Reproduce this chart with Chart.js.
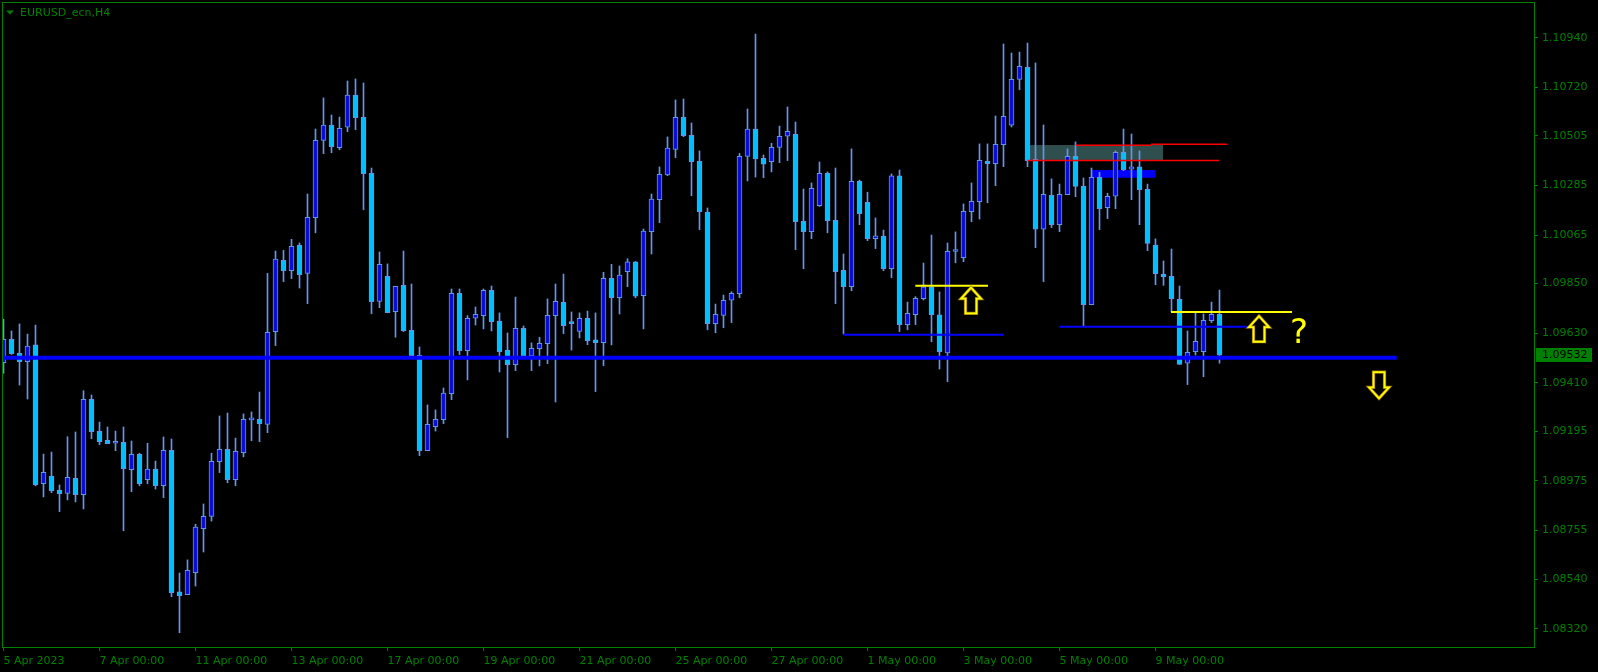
<!DOCTYPE html>
<html>
<head>
<meta charset="utf-8">
<title>EURUSD_ecn,H4</title>
<script src="https://cdn.jsdelivr.net/npm/chart.js@4.4.0/dist/chart.umd.min.js"></script>
<style>
    html, body { margin: 0; padding: 0; background: #000; }
    #wrap { width: 1598px; height: 672px; }
</style>
</head>
<body>
<div id="wrap"><canvas id="mtChart" width="1598" height="672"></canvas></div>
<script>
// H4 bars, 5 Apr 2023 .. 10 May 2023 (bar index = position on the time axis)
const openP = [
    1.09499, 1.09603, 1.09541, 1.09504, 1.09578, 1.08963, 1.08997, 1.08934, 1.08920, 1.08987,
    1.08914, 1.09337, 1.09195, 1.09155, 1.09142, 1.09146, 1.09025, 1.09093, 1.08981, 1.09027,
    1.08954, 1.09111, 1.08483, 1.08471, 1.08568, 1.08763, 1.08818, 1.09060, 1.09115, 1.08981,
    1.09100, 1.09246, 1.09248, 1.09226, 1.09637, 1.09953, 1.09907, 1.10020, 1.09895, 1.10142,
    1.10485, 1.10552, 1.10452, 1.10543, 1.10685, 1.10587, 1.10339, 1.09771, 1.09882, 1.09725,
    1.09842, 1.09643, 1.09532, 1.09109, 1.09215, 1.09247, 1.09362, 1.09807, 1.09552, 1.09696,
    1.09708, 1.09820, 1.09684, 1.09555, 1.09490, 1.09652, 1.09529, 1.09561, 1.09583, 1.09708,
    1.09767, 1.09674, 1.09638, 1.09696, 1.09600, 1.09588, 1.09873, 1.09787, 1.09903, 1.09946,
    1.09796, 1.10080, 1.10222, 1.10331, 1.10445, 1.10587, 1.10507, 1.10392, 1.10167, 1.09672,
    1.09709, 1.09776, 1.09805, 1.10414, 1.10535, 1.10405, 1.10390, 1.10454, 1.10503, 1.10512,
    1.10126, 1.10080, 1.10195, 1.10339, 1.10130, 1.09909, 1.09836, 1.10303, 1.10210, 1.10049,
    1.10060, 1.09916, 1.10327, 1.09668, 1.09712, 1.09783, 1.09836, 1.09711, 1.09543, 1.09992,
    1.09965, 1.10169, 1.10213, 1.10392, 1.10381, 1.10466, 1.10552, 1.10755, 1.10809, 1.10401,
    1.10091, 1.10241, 1.10111, 1.10244, 1.10414, 1.10282, 1.09756, 1.10321, 1.10186, 1.10237,
    1.10432, 1.10357, 1.10367, 1.10268, 1.10020, 1.09891, 1.09882, 1.09780, 1.09497, 1.09548,
    1.09548, 1.09685, 1.09714
];
const highP = [
    1.09692, 1.09640, 1.09671, 1.09626, 1.09666, 1.09094, 1.09103, 1.08957, 1.09171, 1.09192,
    1.09375, 1.09356, 1.09236, 1.09214, 1.09196, 1.09214, 1.09152, 1.09098, 1.09142, 1.09063,
    1.09170, 1.09161, 1.08567, 1.08625, 1.08783, 1.08873, 1.09098, 1.09263, 1.09276, 1.09165,
    1.09272, 1.09281, 1.09369, 1.09895, 1.09994, 1.09997, 1.10046, 1.10030, 1.10247, 1.10535,
    1.10673, 1.10597, 1.10588, 1.10748, 1.10757, 1.10739, 1.10362, 1.09990, 1.09937, 1.09838,
    1.09994, 1.09848, 1.09569, 1.09312, 1.09290, 1.09387, 1.09826, 1.09826, 1.09708, 1.09746,
    1.09826, 1.09839, 1.09720, 1.09631, 1.09790, 1.09662, 1.09587, 1.09612, 1.09782, 1.09848,
    1.09892, 1.09724, 1.09720, 1.09728, 1.09720, 1.09900, 1.09935, 1.09928, 1.09960, 1.09948,
    1.10092, 1.10247, 1.10367, 1.10500, 1.10664, 1.10668, 1.10562, 1.10438, 1.10185, 1.09759,
    1.09799, 1.09814, 1.10427, 1.10624, 1.10956, 1.10420, 1.10472, 1.10548, 1.10633, 1.10566,
    1.10269, 1.10296, 1.10389, 1.10345, 1.10362, 1.09981, 1.10447, 1.10309, 1.10255, 1.10141,
    1.10087, 1.10336, 1.10353, 1.09768, 1.09792, 1.09941, 1.10065, 1.09813, 1.10030, 1.10079,
    1.10203, 1.10296, 1.10469, 1.10469, 1.10593, 1.10912, 1.10872, 1.10876, 1.10916, 1.10828,
    1.10553, 1.10314, 1.10291, 1.10447, 1.10478, 1.10318, 1.10362, 1.10343, 1.10250, 1.10438,
    1.10535, 1.10513, 1.10438, 1.10291, 1.10048, 1.09950, 1.10003, 1.09839, 1.09640, 1.09721,
    1.09715, 1.09768, 1.09821
];
const lowP = [
    1.09452, 1.09536, 1.09400, 1.09338, 1.08953, 1.08904, 1.08923, 1.08839, 1.08891, 1.08882,
    1.08851, 1.09162, 1.09136, 1.09140, 1.09109, 1.08754, 1.08927, 1.08954, 1.08963, 1.08939,
    1.08901, 1.08462, 1.08302, 1.08471, 1.08509, 1.08660, 1.08797, 1.09012, 1.08967, 1.08954,
    1.09082, 1.09153, 1.09149, 1.09189, 1.09575, 1.09858, 1.09872, 1.09830, 1.09761, 1.10075,
    1.10426, 1.10430, 1.10443, 1.10523, 1.10532, 1.10177, 1.09716, 1.09743, 1.09721, 1.09612,
    1.09637, 1.09527, 1.09087, 1.09109, 1.09196, 1.09229, 1.09335, 1.09535, 1.09423, 1.09666,
    1.09649, 1.09640, 1.09458, 1.09167, 1.09464, 1.09520, 1.09464, 1.09485, 1.09495, 1.09325,
    1.09628, 1.09555, 1.09609, 1.09579, 1.09371, 1.09486, 1.09578, 1.09715, 1.09836, 1.09787,
    1.09649, 1.09981, 1.10120, 1.10328, 1.10408, 1.10501, 1.10239, 1.10089, 1.09645, 1.09632,
    1.09654, 1.09677, 1.09787, 1.10305, 1.10322, 1.10319, 1.10345, 1.10386, 1.10395, 1.10000,
    1.09916, 1.10049, 1.10192, 1.10075, 1.09761, 1.09626, 1.09818, 1.10111, 1.10040, 1.10005,
    1.09907, 1.09876, 1.09637, 1.09645, 1.09668, 1.09777, 1.09592, 1.09471, 1.09415, 1.09942,
    1.09947, 1.10124, 1.10136, 1.10208, 1.10284, 1.10368, 1.10544, 1.10709, 1.10368, 1.10009,
    1.09858, 1.10098, 1.10080, 1.10244, 1.10235, 1.09663, 1.09756, 1.10089, 1.10138, 1.10182,
    1.10350, 1.10222, 1.10111, 1.09996, 1.09845, 1.09842, 1.09725, 1.09492, 1.09402, 1.09533,
    1.09437, 1.09677, 1.09497
];
const closeP = [
    1.09603, 1.09539, 1.09504, 1.09573, 1.08957, 1.09013, 1.08932, 1.08918, 1.08991, 1.08914,
    1.09337, 1.09193, 1.09149, 1.09140, 1.09151, 1.09029, 1.09093, 1.08963, 1.09027, 1.08954,
    1.09111, 1.08480, 1.08466, 1.08579, 1.08770, 1.08818, 1.09062, 1.09115, 1.08981, 1.09106,
    1.09248, 1.09248, 1.09229, 1.09634, 1.09958, 1.09907, 1.10015, 1.09889, 1.10144, 1.10485,
    1.10552, 1.10457, 1.10538, 1.10685, 1.10585, 1.10337, 1.09770, 1.09935, 1.09721, 1.09838,
    1.09641, 1.09530, 1.09109, 1.09226, 1.09248, 1.09364, 1.09807, 1.09552, 1.09696, 1.09714,
    1.09820, 1.09681, 1.09548, 1.09490, 1.09652, 1.09529, 1.09563, 1.09585, 1.09709, 1.09771,
    1.09663, 1.09672, 1.09696, 1.09597, 1.09588, 1.09873, 1.09787, 1.09887, 1.09946, 1.09794,
    1.10083, 1.10224, 1.10334, 1.10450, 1.10587, 1.10505, 1.10390, 1.10169, 1.09672, 1.09714,
    1.09776, 1.09807, 1.10414, 1.10535, 1.10403, 1.10379, 1.10454, 1.10503, 1.10525, 1.10124,
    1.10080, 1.10272, 1.10339, 1.10129, 1.09903, 1.09836, 1.10303, 1.10160, 1.10049, 1.10061,
    1.09916, 1.10327, 1.09668, 1.09718, 1.09785, 1.09836, 1.09712, 1.09548, 1.09993, 1.09993,
    1.10170, 1.10215, 1.10396, 1.10381, 1.10467, 1.10591, 1.10755, 1.10813, 1.10395, 1.10091,
    1.10246, 1.10111, 1.10246, 1.10414, 1.10281, 1.09756, 1.10321, 1.10182, 1.10237, 1.10432,
    1.10355, 1.10367, 1.10266, 1.10028, 1.09894, 1.09880, 1.09783, 1.09492, 1.09545, 1.09594,
    1.09687, 1.09714, 1.09532
];

// axis labels
const xTickIndex = [0, 12, 24, 36, 48, 60, 72, 84, 96, 108, 120, 132, 144];
const xTickLabel = ['5 Apr 2023', '7 Apr 00:00', '11 Apr 00:00', '13 Apr 00:00', '17 Apr 00:00',
    '19 Apr 00:00', '21 Apr 00:00', '25 Apr 00:00', '27 Apr 00:00', '1 May 00:00',
    '3 May 00:00', '5 May 00:00', '9 May 00:00'];
const yTickValue = [1.10940, 1.10720, 1.10505, 1.10285, 1.10065, 1.09850, 1.09630,
    1.09410, 1.09195, 1.08975, 1.08755, 1.08540, 1.08320];

// drawn objects (price levels, bar index ranges)
const levelPrice = [1.09521, 1.09623, 1.09659, 1.09840, 1.09724];
const levelFrom = [-0.19, 104.98, 131.98, 113.98, 145.94];
const levelTo = [174.15, 125.03, 155.6, 123.06, 161.06];
const redPrice = [1.10463, 1.10467, 1.10396];
const redFrom = [134.03, 143.44, 128.0];
const redTo = [143.44, 152.94, 151.94];
const zoneFrom = [128.1, 136.03];
const zoneTo = [144.94, 143.94];
const zoneHigh = [1.10464, 1.10353];
const zoneLow = [1.10398, 1.10319];
const arrowAt = [120.94, 156.94, 171.94];
const arrowTip = [1.09832, 1.09706, 1.09341];
const arrowTail = [1.09718, 1.09592, 1.09457];
const questionAt = 161.94;
const questionPrice = 1.09626;

const GREEN = '#008000';
const BULL = '#0a0fd8';
const BEAR = '#00bfff';
const WICK = '#6495ed';
const FONT = "'DejaVu Sans', 'Liberation Sans', sans-serif";

const bodies = openP.map((o, i) => ({ x: i, y: [o, closeP[i]] }));
const wicks = lowP.map((l, i) => ({ x: i, y: [l, highP[i]] }));

function isBull(i) {
    return closeP[i] >= openP[i];
}

// MT4-like objects, title and price label
const mtObjects = {
    id: 'mtObjects',
    beforeDraw(chart) {
        const ctx = chart.ctx;
        ctx.save();
        ctx.fillStyle = '#000';
        ctx.fillRect(0, 0, chart.width, chart.height);
        ctx.restore();
    },
    beforeDatasetsDraw(chart) {
        const { ctx, scales: { x, y } } = chart;
        const colors = ['#2f4f4f', '#0000ff'];
        ctx.save();
        zoneFrom.forEach((f, i) => {
            const x0 = x.getPixelForValue(f);
            const x1 = x.getPixelForValue(zoneTo[i]);
            const y0 = y.getPixelForValue(zoneHigh[i]);
            const y1 = y.getPixelForValue(zoneLow[i]);
            ctx.fillStyle = colors[i];
            ctx.fillRect(x0, y0, x1 - x0, y1 - y0);
        });
        ctx.restore();
    },
    afterDatasetsDraw(chart) {
        const { ctx, chartArea, scales: { x, y } } = chart;
        ctx.save();
        ctx.beginPath();
        ctx.rect(chartArea.left, chartArea.top, chartArea.right - chartArea.left, chartArea.bottom - chartArea.top);
        ctx.clip();

        // horizontal levels
        const widths = [4, 2, 2, 2, 2];
        const colors = ['#0000ff', '#0000ff', '#0000ff', '#ffff00', '#ffff00'];
        levelPrice.forEach((p, i) => {
            const py = y.getPixelForValue(p);
            ctx.strokeStyle = colors[i];
            ctx.lineWidth = widths[i];
            ctx.beginPath();
            ctx.moveTo(x.getPixelForValue(levelFrom[i]), py);
            ctx.lineTo(x.getPixelForValue(levelTo[i]), py);
            ctx.stroke();
        });

        // red lines
        ctx.strokeStyle = '#ff0000';
        ctx.lineWidth = 1.5;
        redPrice.forEach((p, i) => {
            const py = y.getPixelForValue(p);
            ctx.beginPath();
            ctx.moveTo(x.getPixelForValue(redFrom[i]), py);
            ctx.lineTo(x.getPixelForValue(redTo[i]), py);
            ctx.stroke();
        });

        // hollow arrows
        arrowAt.forEach((a, i) => {
            const cx = x.getPixelForValue(a);
            const tip = y.getPixelForValue(arrowTip[i]);
            const tail = y.getPixelForValue(arrowTail[i]);
            const dir = tail > tip ? 1 : -1;
            const neck = tip + dir * 11;
            ctx.beginPath();
            ctx.moveTo(cx, tip);
            ctx.lineTo(cx + 10, neck);
            ctx.lineTo(cx + 5.5, neck);
            ctx.lineTo(cx + 5.5, tail);
            ctx.lineTo(cx - 5.5, tail);
            ctx.lineTo(cx - 5.5, neck);
            ctx.lineTo(cx - 10, neck);
            ctx.closePath();
            ctx.lineJoin = 'miter';
            ctx.strokeStyle = '#9a7000';
            ctx.lineWidth = 3.2;
            ctx.stroke();
            ctx.strokeStyle = '#ffff00';
            ctx.lineWidth = 1.8;
            ctx.stroke();
        });

        ctx.fillStyle = '#ffff00';
        ctx.font = '34px ' + FONT;
        ctx.textAlign = 'center';
        ctx.textBaseline = 'middle';
        ctx.fillText('?', x.getPixelForValue(questionAt), y.getPixelForValue(questionPrice));
        ctx.restore();
    },
    afterDraw(chart) {
        const { ctx, chartArea, scales: { y } } = chart;
        ctx.save();
        // frame
        ctx.strokeStyle = GREEN;
        ctx.lineWidth = 1;
        ctx.strokeRect(chartArea.left + 0.5, chartArea.top + 0.5,
            chartArea.right - chartArea.left - 1, chartArea.bottom - chartArea.top - 1);

        // title
        ctx.fillStyle = GREEN;
        ctx.beginPath();
        ctx.moveTo(6, 10.5);
        ctx.lineTo(14, 10.5);
        ctx.lineTo(10, 14.5);
        ctx.closePath();
        ctx.fill();
        ctx.font = '11px ' + FONT;
        ctx.textAlign = 'left';
        ctx.textBaseline = 'middle';
        ctx.fillText('EURUSD_ecn,H4', 20, 13.5);

        // last price label
        const last = closeP[closeP.length - 1];
        const py = Math.round(y.getPixelForValue(last));
        ctx.fillStyle = GREEN;
        ctx.fillRect(chartArea.right + 1, py - 7, 56, 14);
        ctx.fillStyle = '#000';
        ctx.fillText(last.toFixed(5), chartArea.right + 7, py);
        ctx.restore();
    }
};

const ctx = document.getElementById('mtChart').getContext('2d');
const chart = new Chart(ctx, {
    type: 'bar',
    data: {
        datasets: [{
            label: 'body',
            data: bodies,
            order: 0,
            grouped: false,
            barThickness: 5,
            minBarLength: 2,
            borderWidth: 1,
            borderSkipped: false,
            borderColor: WICK,
            backgroundColor: (c) => isBull(c.dataIndex) ? BULL : BEAR
        }, {
            label: 'wick',
            data: wicks,
            order: 1,
            grouped: false,
            barThickness: 1,
            borderWidth: 0,
            backgroundColor: WICK
        }]
    },
    options: {
        responsive: false,
        animation: false,
        devicePixelRatio: 1,
        events: [],
        layout: { padding: { left: 2, top: 2, right: 0, bottom: 0 } },
        plugins: {
            legend: { display: false },
            tooltip: { enabled: false }
        },
        scales: {
            x: {
                type: 'linear',
                min: -0.1875,
                max: 191.4375,
                offset: false,
                border: { display: false },
                grid: {
                    offset: false,
                    drawOnChartArea: false,
                    drawTicks: true,
                    tickLength: 3,
                    color: GREEN
                },
                ticks: {
                    autoSkip: false,
                    maxRotation: 0,
                    minRotation: 0,
                    align: 'start',
                    padding: 4,
                    color: GREEN,
                    font: { family: FONT, size: 11 },
                    callback: (v, i) => xTickLabel[i]
                },
                afterBuildTicks: (scale) => {
                    scale.ticks = xTickIndex.map(v => ({ value: v }));
                },
                afterFit: (scale) => {
                    scale.height = 24;
                    scale.paddingLeft = 0;
                    scale.paddingRight = 0;
                }
            },
            y: {
                type: 'linear',
                position: 'right',
                min: 1.082344,
                max: 1.110981,
                beginAtZero: false,
                border: { display: false },
                grid: {
                    drawOnChartArea: false,
                    drawTicks: true,
                    tickLength: 3,
                    color: GREEN
                },
                ticks: {
                    autoSkip: false,
                    padding: 4,
                    color: GREEN,
                    font: { family: FONT, size: 11 },
                    callback: (v) => Number(v).toFixed(5)
                },
                afterBuildTicks: (scale) => {
                    scale.ticks = yTickValue.map(v => ({ value: v }));
                },
                afterFit: (scale) => {
                    scale.width = 63;
                    scale.paddingTop = 0;
                    scale.paddingBottom = 0;
                }
            }
        }
    },
    plugins: [mtObjects]
});
</script>
</body>
</html>
